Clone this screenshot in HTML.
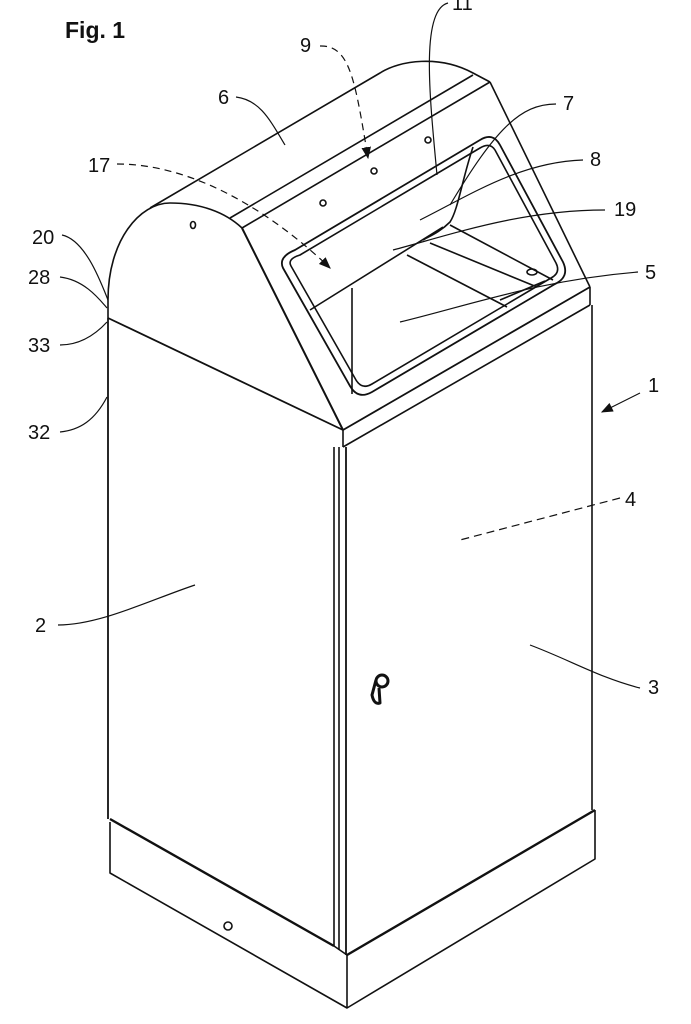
<!DOCTYPE html>
<html><head><meta charset="utf-8"><style>
html,body{margin:0;padding:0;background:#fff;}
svg{display:block}
text{font-family:"Liberation Sans",sans-serif;font-size:20px;fill:#111}
</style></head><body>
<svg width="691" height="1024" viewBox="0 0 691 1024" xmlns="http://www.w3.org/2000/svg">
<defs><marker id="ar" markerWidth="10" markerHeight="8" refX="9" refY="4" orient="auto"><path d="M0,0 L10,4 L0,8 z" fill="#111"/></marker></defs>
<g fill="none" stroke="#111" stroke-width="1.6" stroke-linejoin="round">
<path d="M108,318 L108,300 C108,240 140,203 170,203 C200,203 225,212 242,228"/>
<path d="M150,208 L380,73 C400,60 440,55 473,73 L490,82"/>
<path d="M230,218 L473,75"/>
<path d="M242,228 L490,82"/>
<path d="M242,228 L343,430" stroke-width="2"/>
<path d="M490,82 L590,287"/>
<path d="M108,318 L343,430 L590,287" stroke-width="1.8"/>
<path d="M343,430 L343,447"/>
<path d="M343,447 L590,305"/>
<path d="M590,287 L590,305"/>
<path d="M295,250 L480,140 Q493,132 500,145 L563,262 Q570,277 555,284 L372,392 Q358,400 350,386 L283,268 Q278,257 295,250 z" stroke-width="1.8"/>
<path d="M300,255 L480,148 Q490,142 495,150 L556,263 Q561,273 551,278 L372,384 Q362,390 356,380 L291,266 Q287,259 300,255 z"/>
<path d="M310,310 L443,227"/>
<path d="M352,288 L352,394"/>
<path d="M473,147 C462,180 458,210 450,222 C440,232 430,236 423,240"/>
<path d="M407,255 L507,307"/>
<path d="M430,243 L537,287"/>
<path d="M450,225 L553,280"/>
<path d="M500,300 L545,281"/>
<path d="M108,318 L108,819" stroke-width="1.8"/>
<path d="M592,305 L592,810"/>
<path d="M334,447 L334,946"/>
<path d="M339,447 L339,950"/>
<path d="M346,447 L346,955" stroke-width="1.8"/>
<path d="M110,819 L334,946" stroke-width="2.4"/>
<path d="M110,822 L110,873 L347,1008 L595,859 L595,810"/>
<path d="M347,955 L347,1008"/>
<path d="M347,955 L595,810" stroke-width="2.4"/>
<path d="M334,946 L347,955"/>
<circle cx="323" cy="203" r="3"/><circle cx="374" cy="171" r="3"/><circle cx="428" cy="140" r="3"/>
<ellipse cx="193" cy="225" rx="2.5" ry="3.5"/>
<circle cx="228" cy="926" r="4"/>
<ellipse cx="532" cy="272" rx="5" ry="3"/>
<circle cx="382" cy="681" r="6" stroke-width="3"/>
<path d="M376,680 L372,695 Q374,705 380,703 L379,688" stroke-width="3"/>
<g stroke-width="1.2">
<path d="M320,46 C350,45 355,80 368,158" stroke-dasharray="7,5" marker-end="url(#ar)"/>
<path d="M448,3 C420,10 430,100 437,175"/>
<path d="M236,97 C260,100 270,120 285,145"/>
<path d="M556,104 C520,104 495,130 450,205"/>
<path d="M583,160 C520,162 470,195 420,220"/>
<path d="M117,164 C200,164 280,220 330,268" stroke-dasharray="7,5" marker-end="url(#ar)"/>
<path d="M605,210 C520,210 450,235 393,250"/>
<path d="M638,272 C540,280 470,305 400,322"/>
<path d="M62,235 C85,240 100,280 108,300"/>
<path d="M60,277 C85,280 100,300 107,308"/>
<path d="M60,345 C80,345 95,335 107,322"/>
<path d="M60,432 C80,430 95,420 107,397"/>
<path d="M640,393 L602,412" marker-end="url(#ar)"/>
<path d="M620,498 L460,540" stroke-dasharray="8,5"/>
<path d="M58,625 C100,625 150,600 195,585"/>
<path d="M640,688 C600,678 570,660 530,645"/>
</g>
</g>
<text x="65" y="38" style="font-weight:bold;font-size:23px">Fig. 1</text>
<text x="300" y="52">9</text>
<text x="452" y="10">11</text>
<text x="218" y="104">6</text>
<text x="563" y="110">7</text>
<text x="590" y="166">8</text>
<text x="88" y="172">17</text>
<text x="614" y="216">19</text>
<text x="645" y="279">5</text>
<text x="32" y="244">20</text>
<text x="28" y="284">28</text>
<text x="28" y="352">33</text>
<text x="28" y="439">32</text>
<text x="648" y="392">1</text>
<text x="625" y="506">4</text>
<text x="35" y="632">2</text>
<text x="648" y="694">3</text>
</svg>
</body></html>
